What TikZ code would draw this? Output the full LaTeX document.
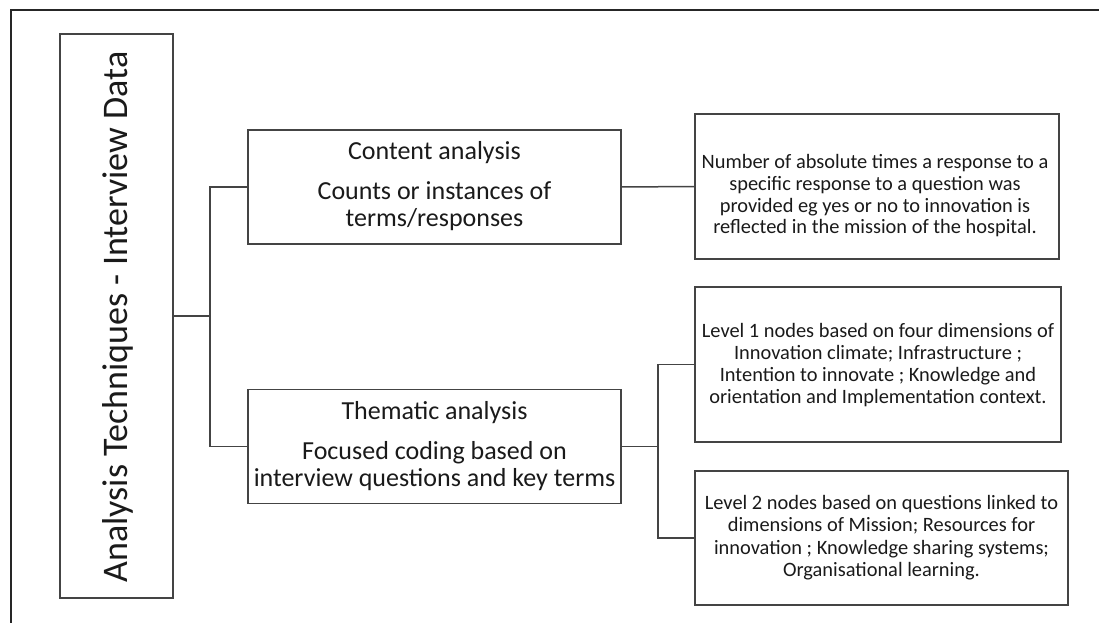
\documentclass[tikz,border=0pt]{standalone}
\usepackage{fontspec}
\setmainfont{Carlito}
\begin{document}
\begin{tikzpicture}[x=1pt,y=-1pt,
  box/.style={draw=boxgray, line width=1.5pt, inner sep=0pt, rectangle},
  conn/.style={draw=boxgray, line width=1.5pt},
  big/.style={font=\fontsize{36}{43}\selectfont, text=txt, inner sep=0pt},
  mid/.style={font=\fontsize{26}{27}\selectfont, text=txt, inner sep=0pt, anchor=base},
  sml/.style={font=\fontsize{20.4}{22}\selectfont, text=txt, inner sep=0pt, anchor=base}]
\definecolor{boxgray}{HTML}{444444}
\definecolor{txt}{HTML}{1A1A1A}
\useasboundingbox (0,0) rectangle (1099,623);
\fill[white] (0,0) rectangle (1099,623);
% outer frame
\draw[line width=2.2pt, black!85] (11,630) -- (11,10) -- (1105,10);
% boxes
\node[box, minimum width=113pt, minimum height=564pt] (main) at (116.5,316) {};
\node[box, minimum width=373pt, minimum height=114pt] (content) at (434.5,187) {};
\node[box, minimum width=373pt, minimum height=114pt] (thematic) at (434.5,446.5) {};
\node[box, minimum width=364pt, minimum height=145pt] (count) at (877,186.5) {};
\node[box, minimum width=366pt, minimum height=155pt] (lev1) at (878,364.5) {};
\node[box, minimum width=373pt, minimum height=134pt] (lev2) at (881.5,538) {};
% texts
\node[big, rotate=90, anchor=base] (maintext) at (127,317) {Analysis Techniques - Interview Data};
\node[mid] (c1) at (434.5,159) {Content analysis};
\node[mid] (c2) at (434.5,199) {Counts or instances of};
\node[mid] (c3) at (434.5,226) {terms/responses};
\node[mid] (t1) at (434.5,419) {Thematic analysis};
\node[mid] (t2) at (434.5,459) {Focused coding based on};
\node[mid] (t3) at (434.5,486) {interview questions and key terms};
\node[sml] (n1) at (875,168) {Number of absolute times a response to a};
\node[sml] (n2) at (875,190) {specific response to a question was};
\node[sml] (n3) at (875,212) {provided eg yes or no to innovation is};
\node[sml] (n4) at (875,233.5) {reflected in the mission of the hospital.};
\node[sml] (a1) at (878,337) {Level 1 nodes based on four dimensions of};
\node[sml] (a2) at (878,359) {Innovation climate; Infrastructure ;};
\node[sml] (a3) at (878,381) {Intention to innovate ; Knowledge and};
\node[sml] (a4) at (878,403) {orientation and Implementation context.};
\node[sml] (b1) at (881.5,509) {Level 2 nodes based on questions linked to};
\node[sml] (b2) at (881.5,531.5) {dimensions of Mission; Resources for};
\node[sml] (b3) at (881.5,554) {innovation ; Knowledge sharing systems;};
\node[sml] (b4) at (881.5,576.5) {Organisational learning.};
% connectors
\coordinate (j1) at (210,316);
\coordinate (j2) at (658,446.5);
\draw[conn] (main.east) -- (j1);
\draw[conn] (content.west) -| (j1) |- (thematic.west);
\draw[conn] (content.east) -- (count.west);
\draw[conn] (thematic.east) -- (j2);
\draw[conn] (lev1.west) -| (j2) |- (lev2.west);
\end{tikzpicture}
\end{document}
